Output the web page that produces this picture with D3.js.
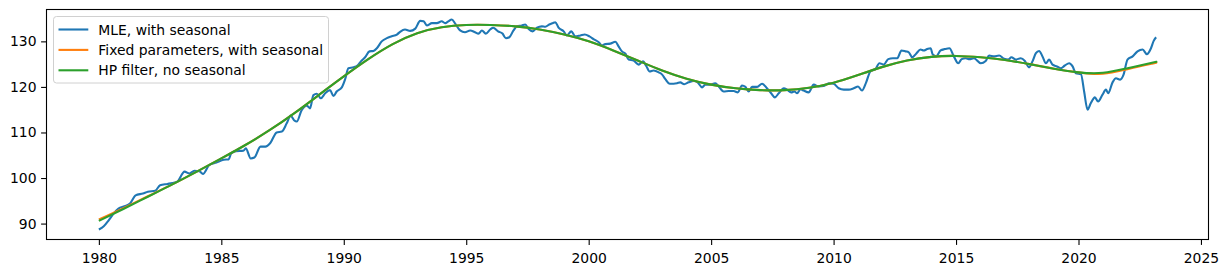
<!DOCTYPE html>
<html>
<head>
<meta charset="utf-8">
<script src="https://cdn.jsdelivr.net/npm/d3@7"></script>
<style>
    body { margin: 0; background: #fff; }
    text { font-family: "DejaVu Sans", sans-serif; }
</style>
</head>
<body>
<div id="chart"></div>
<script>

// MLE, with seasonal (decimal years)
var mleYears = [
    1980.0, 1980.2, 1980.4, 1980.6, 1980.8, 1981.05, 1981.27, 1981.5, 1981.8, 1982.0,
    1982.3, 1982.5, 1982.8, 1983.0, 1983.2, 1983.5, 1983.7, 1983.9, 1984.1, 1984.25,
    1984.5, 1984.8, 1985.1, 1985.3, 1985.4, 1985.6, 1985.9, 1986.0, 1986.2, 1986.35,
    1986.6, 1986.8, 1987.0, 1987.26, 1987.47, 1987.67, 1987.83, 1987.97, 1988.08, 1988.28,
    1988.49, 1988.62, 1988.76, 1988.9, 1989.06, 1989.24, 1989.44, 1989.58, 1989.71, 1989.92,
    1990.05, 1990.19, 1990.4, 1990.56, 1990.7, 1990.87, 1991.05, 1991.21, 1991.35, 1991.55,
    1991.76, 1991.96, 1992.17, 1992.3, 1992.5, 1992.71, 1992.92, 1993.12, 1993.26, 1993.39,
    1993.6, 1993.8, 1994.0, 1994.14, 1994.27, 1994.41, 1994.55, 1994.75, 1994.95, 1995.16,
    1995.36, 1995.5, 1995.64, 1995.8, 1995.98, 1996.1, 1996.3, 1996.48, 1996.62, 1996.76,
    1996.93, 1997.07, 1997.27, 1997.41, 1997.55, 1997.71, 1997.89, 1998.09, 1998.23, 1998.39,
    1998.53, 1998.64, 1998.77, 1998.98, 1999.11, 1999.29, 1999.45, 1999.66, 1999.84, 2000.03,
    2000.2, 2000.41, 2000.54, 2000.68, 2000.88, 2001.09, 2001.22, 2001.36, 2001.5, 2001.63,
    2001.83, 2002.04, 2002.22, 2002.35, 2002.49, 2002.65, 2002.86, 2003.0, 2003.13, 2003.31,
    2003.47, 2003.61, 2003.74, 2003.9, 2004.08, 2004.29, 2004.45, 2004.63, 2004.76, 2004.94,
    2005.17, 2005.31, 2005.51, 2005.72, 2005.92, 2006.09, 2006.26, 2006.4, 2006.53, 2006.67,
    2006.88, 2007.08, 2007.28, 2007.45, 2007.6, 2007.76, 2007.97, 2008.1, 2008.27, 2008.4,
    2008.51, 2008.65, 2008.78, 2008.98, 2009.19, 2009.39, 2009.6, 2009.8, 2010.0, 2010.21,
    2010.42, 2010.62, 2010.82, 2011.0, 2011.16, 2011.33, 2011.5, 2011.71, 2011.87, 2012.05,
    2012.23, 2012.42, 2012.6, 2012.77, 2012.94, 2013.07, 2013.21, 2013.37, 2013.55, 2013.68,
    2013.82, 2013.96, 2014.05, 2014.19, 2014.37, 2014.54, 2014.73, 2014.91, 2015.09, 2015.23,
    2015.39, 2015.55, 2015.73, 2016.01, 2016.21, 2016.35, 2016.55, 2016.76, 2016.96, 2017.13,
    2017.26, 2017.44, 2017.64, 2017.81, 2017.98, 2018.12, 2018.26, 2018.39, 2018.53, 2018.67,
    2018.8, 2018.94, 2019.12, 2019.28, 2019.44, 2019.62, 2019.76, 2019.89, 2020.1, 2020.23,
    2020.37, 2020.5, 2020.67, 2020.8, 2020.98, 2021.12, 2021.21, 2021.39, 2021.53, 2021.7,
    2021.84, 2022.0, 2022.21, 2022.41, 2022.62, 2022.79, 2022.96, 2023.07, 2023.17
];
var mleValues = [
    88.7, 89.4, 90.7, 92.2, 93.3, 93.8, 94.4, 96.2, 96.6, 97.0,
    97.2, 98.4, 98.7, 98.9, 99.2, 101.4, 101.0, 101.6, 101.5, 100.9,
    102.8, 103.4, 104.0, 104.1, 105.4, 105.9, 106.0, 106.5, 104.3, 104.5,
    106.9, 106.9, 107.7, 110.0, 110.2, 112.0, 113.7, 112.7, 112.4, 114.9,
    115.9, 115.3, 118.2, 118.5, 117.5, 118.6, 119.3, 118.0, 119.0, 119.9,
    121.6, 124.1, 124.3, 124.7, 125.6, 126.5, 127.8, 127.9, 128.5, 130.0,
    130.7, 131.1, 131.5, 132.1, 132.6, 132.3, 132.8, 134.5, 134.4, 133.5,
    134.0, 134.0, 134.4, 134.0, 134.4, 134.8, 133.9, 132.4, 132.0, 132.4,
    132.0, 131.7, 132.4, 131.7, 132.6, 133.0, 132.2, 131.7, 130.7, 130.9,
    132.4, 133.3, 133.5, 133.7, 132.7, 132.2, 133.0, 133.3, 133.2, 133.7,
    134.0, 134.2, 133.0, 132.2, 131.3, 132.2, 131.1, 131.3, 131.5, 131.1,
    130.5, 129.8, 129.1, 129.4, 129.5, 129.9, 128.9, 127.8, 127.3, 126.0,
    125.8, 124.9, 125.6, 124.6, 123.4, 123.6, 123.2, 122.7, 121.7, 120.7,
    120.7, 120.8, 121.0, 120.6, 121.0, 121.3, 121.0, 119.9, 120.5, 120.5,
    120.8, 120.1, 119.0, 119.1, 119.1, 118.8, 120.3, 120.0, 119.0, 120.0,
    120.0, 120.7, 119.7, 118.6, 117.7, 118.6, 119.7, 119.4, 118.8, 119.0,
    118.6, 119.5, 119.2, 118.8, 120.5, 120.1, 120.2, 120.8, 120.7, 119.7,
    119.4, 119.4, 119.7, 120.1, 119.2, 121.0, 123.4, 123.9, 125.2, 124.9,
    126.1, 126.3, 126.3, 128.0, 127.8, 127.6, 126.5, 127.3, 128.2, 128.0,
    128.3, 128.5, 127.1, 126.7, 128.0, 128.3, 128.5, 126.7, 125.2, 126.1,
    126.3, 126.1, 126.3, 125.2, 125.7, 126.9, 126.7, 126.9, 126.2, 126.0,
    126.5, 126.0, 126.3, 125.7, 124.3, 125.6, 127.4, 127.9, 126.7, 125.2,
    126.0, 124.9, 124.5, 124.1, 124.7, 125.2, 124.5, 123.0, 122.8, 119.0,
    115.0, 116.4, 117.7, 116.8, 118.3, 119.4, 118.6, 121.0, 121.9, 121.6,
    122.7, 126.0, 126.7, 127.8, 128.2, 127.2, 128.5, 130.1, 130.9
];

// trend lines, one reading per year
var trendYears = [
    1980, 1981, 1982, 1983, 1984, 1985, 1986, 1987, 1988, 1989,
    1990, 1991, 1992, 1993, 1994, 1995, 1996, 1997, 1998, 1999,
    2000, 2001, 2002, 2003, 2004, 2005, 2006, 2007, 2008, 2009,
    2010, 2011, 2012, 2013, 2014, 2015, 2016, 2017, 2018, 2019,
    2020, 2021, 2022, 2023, 2023.17
];
var fixedValues = [
    90.9, 93.4, 96.0, 98.6, 101.4, 104.3, 107.3, 110.6, 114.3, 118.3,
    122.3, 126.1, 129.4, 131.8, 133.1, 133.6, 133.6, 133.3, 132.6, 131.5,
    130.0, 128.0, 125.8, 123.6, 121.8, 120.5, 119.7, 119.3, 119.3, 119.8,
    120.9, 122.6, 124.4, 125.8, 126.6, 126.8, 126.5, 125.9, 125.0, 124.0,
    123.2, 122.9, 123.9, 125.1, 125.3
];
var hpValues = [
    90.6, 93.2, 95.9, 98.6, 101.4, 104.3, 107.3, 110.6, 114.3, 118.3,
    122.3, 126.1, 129.4, 131.8, 133.1, 133.6, 133.6, 133.3, 132.6, 131.5,
    130.0, 128.0, 125.8, 123.6, 121.8, 120.5, 119.7, 119.3, 119.3, 119.8,
    120.9, 122.6, 124.4, 125.8, 126.6, 126.8, 126.5, 125.9, 125.0, 124.0,
    123.2, 123.1, 124.1, 125.3, 125.5
];

var xTicks = [1980, 1985, 1990, 1995, 2000, 2005, 2010, 2015, 2020, 2025];
var yTicks = [90, 100, 110, 120, 130];

var seriesNames = ["MLE, with seasonal", "Fixed parameters, with seasonal", "HP filter, no seasonal"];
var seriesColors = ["#1f77b4", "#ff7f0e", "#2ca02c"];

var svgW = 1228;
var svgH = 274;
var margin = { left: 46, right: 19, top: 9, bottom: 34 };
var chartW = svgW - margin.left - margin.right;
var chartH = svgH - margin.top - margin.bottom;
var fontSize = 13.9;

var svg = d3.select("#chart")
    .append("svg")
    .attr("width", svgW)
    .attr("height", svgH);
var g = svg.append("g")
    .attr("transform", `translate(${margin.left}, ${margin.top})`);

// matplotlib style 5% margins around the data
var xExt = d3.extent(mleYears);
var xPad = (xExt[1] - xExt[0]) * 0.05;
var allY = mleValues.concat(fixedValues, hpValues);
var yExt = d3.extent(allY);
var yPad = (yExt[1] - yExt[0]) * 0.05;

var xScale = d3.scaleLinear()
    .domain([xExt[0] - xPad, xExt[1] + xPad])
    .range([0, chartW]);
var yScale = d3.scaleLinear()
    .domain([yExt[0] - yPad, yExt[1] + yPad])
    .range([chartH, 0]);

var bottomAxis = d3.axisBottom(xScale)
    .tickValues(xTicks)
    .tickFormat(d3.format("d"))
    .tickSize(4.9)
    .tickSizeOuter(0)
    .tickPadding(7.8);
var leftAxis = d3.axisLeft(yScale)
    .tickValues(yTicks)
    .tickFormat(d3.format("d"))
    .tickSize(4.9)
    .tickSizeOuter(0)
    .tickPadding(4.6);

var xAxisG = g.append("g")
    .attr("transform", `translate(0, ${chartH})`)
    .call(bottomAxis);
var yAxisG = g.append("g").call(leftAxis);

[xAxisG, yAxisG].forEach(a => {
    a.select(".domain").remove();
    a.selectAll("line").attr("stroke", "#000").attr("stroke-width", 1.1);
    a.selectAll("text")
        .attr("fill", "#000")
        .attr("font-family", "DejaVu Sans")
        .attr("font-size", fontSize);
});

// lines
var clip = g.append("clipPath").attr("id", "plotclip")
    .append("rect").attr("width", chartW).attr("height", chartH);

var mleLine = d3.line()
    .x((d, i) => xScale(mleYears[i]))
    .y(d => yScale(d))
    .curve(d3.curveMonotoneX);
var trendLine = d3.line()
    .x((d, i) => xScale(trendYears[i]))
    .y(d => yScale(d))
    .curve(d3.curveNatural);

var lines = g.append("g").attr("clip-path", "url(#plotclip)");
lines.append("path")
    .attr("d", mleLine(mleValues))
    .attr("fill", "none")
    .attr("stroke", seriesColors[0])
    .attr("stroke-width", 2.1)
    .attr("stroke-linejoin", "round");
lines.append("path")
    .attr("d", trendLine(fixedValues))
    .attr("fill", "none")
    .attr("stroke", seriesColors[1])
    .attr("stroke-width", 2.1);
lines.append("path")
    .attr("d", trendLine(hpValues))
    .attr("fill", "none")
    .attr("stroke", seriesColors[2])
    .attr("stroke-width", 2.1);

// frame
g.append("rect")
    .attr("x", 0.5)
    .attr("y", 0.5)
    .attr("width", chartW - 1)
    .attr("height", chartH - 1)
    .attr("fill", "none")
    .attr("stroke", "#000")
    .attr("stroke-width", 1.1);

// legend
var legend = g.append("g").attr("transform", "translate(7, 7)");
legend.append("rect")
    .attr("x", 0.5)
    .attr("y", 0.5)
    .attr("width", 275)
    .attr("height", 66.5)
    .attr("rx", 3)
    .attr("fill", "#fff")
    .attr("fill-opacity", 0.8)
    .attr("stroke", "#d0d0d0")
    .attr("stroke-width", 1);

seriesNames.forEach((name, i) => {
    var cy = 13.5 + i * 20.4;
    legend.append("line")
        .attr("x1", 5.5)
        .attr("x2", 35.3)
        .attr("y1", cy)
        .attr("y2", cy)
        .attr("stroke", seriesColors[i])
        .attr("stroke-width", 2.1);
    legend.append("text")
        .attr("x", 45.3)
        .attr("y", cy)
        .attr("dy", "0.36em")
        .attr("font-size", fontSize)
        .attr("fill", "#000")
        .text(name);
});

</script>
</body>
</html>
